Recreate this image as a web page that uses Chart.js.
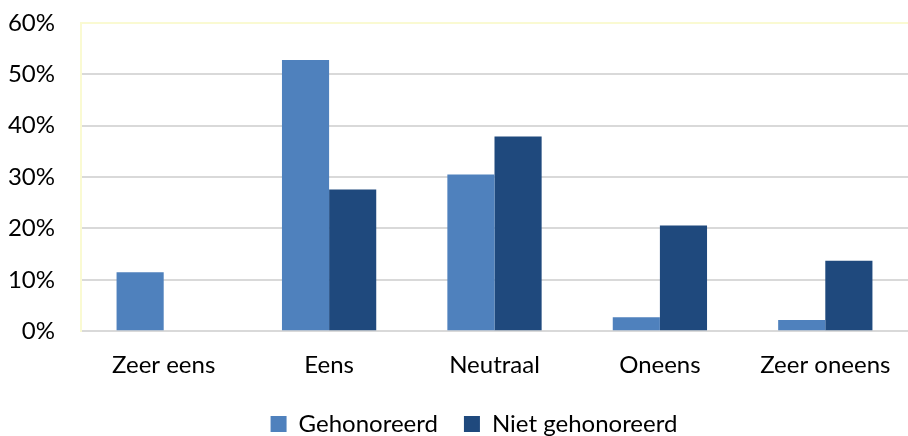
<!DOCTYPE html>
<html>
<head>
<meta charset="utf-8">
<script src="https://cdn.jsdelivr.net/npm/chart.js@4"></script>
<style>
  html, body { margin: 0; padding: 0; background: #fff; }
  #wrap { width: 908px; height: 436px; }
</style>
</head>
<body>
<div id="wrap"><canvas id="antwoordChart" width="908" height="436"></canvas></div>
<script>
const categories = ['Zeer eens', 'Eens', 'Neutraal', 'Oneens', 'Zeer oneens'];
const gehonoreerd = [11.5, 52.8, 30.5, 2.7, 2.2];
const nietGehonoreerd = [0, 27.6, 37.9, 20.6, 13.7];
const yTicks = [0, 10, 20, 30, 40, 50, 60];

const labelFont = { family: 'Lato', size: 24 };

const ctx = document.getElementById('antwoordChart').getContext('2d');

// legend sits a bit right of the canvas centre in the original
const shiftLegend = {
  id: 'shiftLegend',
  afterLayout(chart) {
    if (chart.legend) {
      chart.legend.left += 40;
    }
  },
};

new Chart(ctx, {
  type: 'bar',
  data: {
    labels: categories,
    datasets: [
      {
        label: 'Gehonoreerd',
        data: gehonoreerd,
        backgroundColor: '#4F81BD',
        categoryPercentage: 0.57,
        barPercentage: 1.0,
      },
      {
        label: 'Niet gehonoreerd',
        data: nietGehonoreerd,
        backgroundColor: '#1F497D',
        categoryPercentage: 0.57,
        barPercentage: 1.0,
      },
    ],
  },
  options: {
    responsive: false,
    animation: false,
    layout: { padding: { top: 23, left: 0, right: 0, bottom: -10 } },
    scales: {
      x: {
        grid: { display: false },
        border: { color: '#D9D9D9', width: 2 },
        ticks: { color: '#000', font: labelFont, padding: 12 },
        afterFit: (axis) => {
          axis.height = axis.height - 6;
        },
      },
      y: {
        min: 0,
        max: 60,
        afterBuildTicks: (axis) => {
          axis.ticks = yTicks.map((v) => ({ value: v }));
        },
        afterFit: (axis) => {
          axis.width = 81;
          axis.paddingTop = 0;
          axis.paddingBottom = 0;
        },
        grid: {
          color: (c) => (c.tick && c.tick.value === 60 ? '#FAFAD2' : '#D9D9D9'),
          lineWidth: 2,
          drawTicks: false,
        },
        border: { color: '#FAFAD2', width: 2 },
        ticks: {
          color: '#000',
          font: labelFont,
          padding: 26,
          callback: (v) => v + '%',
        },
      },
    },
    plugins: {
      legend: {
        position: 'bottom',
        labels: {
          color: '#000',
          font: labelFont,
          boxWidth: 16,
          boxHeight: 16,
          padding: 26,
        },
      },
      tooltip: { enabled: false },
    },
  },
  plugins: [shiftLegend],
});
</script>
</body>
</html>
